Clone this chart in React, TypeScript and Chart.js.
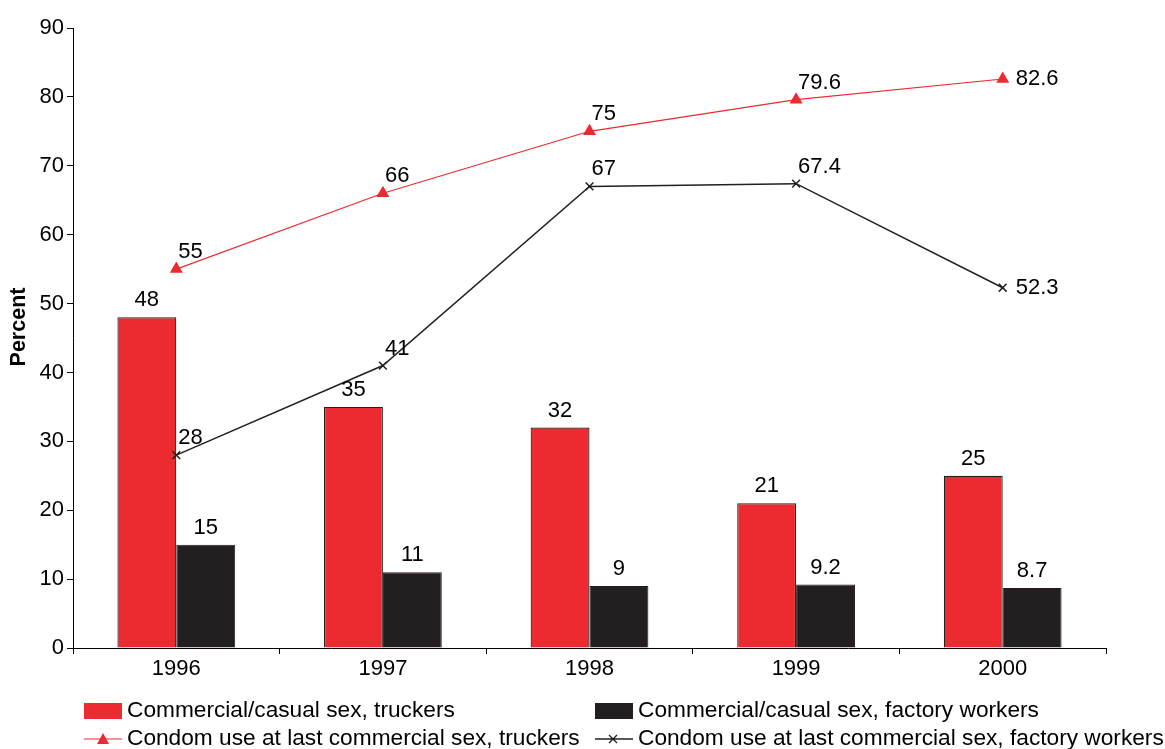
import React, { useEffect, useRef } from "react";
import { Chart, registerables } from "chart.js";

Chart.register(...registerables);

const years = ["1996", "1997", "1998", "1999", "2000"];
const casualTruckers = [48, 35, 32, 21, 25];
const casualFactory = [15, 11, 9, 9.2, 8.7];
const condomTruckers = [55, 66, 75, 79.6, 82.6];
const condomFactory = [28, 41, 67, 67.4, 52.3];

const legendLabels = [
  "Commercial/casual sex, truckers",
  "Commercial/casual sex, factory workers",
  "Condom use at last commercial sex, truckers",
  "Condom use at last commercial sex, factory workers",
];

const RED = "#EC2A2F";
const BLACK = "#231F20";
const FONT = '"Liberation Sans", Arial, sans-serif';

const labelPlugin = {
  id: "valueLabels",
  afterDatasetsDraw(chart: any) {
    const ctx = chart.ctx;
    ctx.save();
    ctx.fillStyle = "#000";
    ctx.font = `22px ${FONT}`;
    chart.data.datasets.forEach((ds: any, di: number) => {
      const meta = chart.getDatasetMeta(di);
      meta.data.forEach((el: any, i: number) => {
        const v = ds.data[i];
        const txt = String(v);
        if (ds.type === "bar") {
          ctx.textAlign = "center";
          ctx.textBaseline = "alphabetic";
          ctx.fillText(txt, el.x, el.y - 11);
        } else {
          ctx.textAlign = "left";
          if (i === meta.data.length - 1) {
            ctx.textBaseline = "middle";
            ctx.fillText(txt, el.x + 13, el.y);
          } else {
            ctx.textBaseline = "alphabetic";
            ctx.fillText(txt, el.x + 2, el.y - 11);
          }
        }
      });
    });
    ctx.restore();
  },
};

const decorPlugin = {
  id: "decor",
  afterDraw(chart: any) {
    const ctx = chart.ctx;
    ctx.save();
    // y-axis title
    ctx.translate(19, 327);
    ctx.rotate(-Math.PI / 2);
    ctx.font = `bold 21.5px ${FONT}`;
    ctx.fillStyle = "#000";
    ctx.textAlign = "center";
    ctx.textBaseline = "middle";
    ctx.fillText("Percent", 0, 0);
    ctx.restore();

    // legend
    ctx.save();
    ctx.font = `22.7px ${FONT}`;
    ctx.fillStyle = "#000";
    ctx.textBaseline = "middle";
    ctx.textAlign = "left";
    const cols = [84, 595];
    const rows = [711, 739];
    const symW = 38;
    // row 1: boxes
    ctx.fillStyle = RED;
    ctx.fillRect(cols[0], rows[0] - 8, symW, 16);
    ctx.fillStyle = BLACK;
    ctx.fillRect(cols[1], rows[0] - 8, symW, 16);
    // row 2: lines with markers
    ctx.lineWidth = 1;
    ctx.strokeStyle = RED;
    ctx.beginPath();
    ctx.moveTo(cols[0], rows[1]);
    ctx.lineTo(cols[0] + symW, rows[1]);
    ctx.stroke();
    ctx.fillStyle = RED;
    const tx = cols[0] + 19;
    ctx.beginPath();
    ctx.moveTo(tx, rows[1] - 6);
    ctx.lineTo(tx + 6, rows[1] + 5);
    ctx.lineTo(tx - 6, rows[1] + 5);
    ctx.closePath();
    ctx.fill();
    ctx.strokeStyle = BLACK;
    ctx.lineWidth = 1.3;
    ctx.beginPath();
    ctx.moveTo(cols[1], rows[1]);
    ctx.lineTo(cols[1] + symW, rows[1]);
    const cx = cols[1] + 18;
    ctx.moveTo(cx - 4, rows[1] - 4);
    ctx.lineTo(cx + 4, rows[1] + 4);
    ctx.moveTo(cx - 4, rows[1] + 4);
    ctx.lineTo(cx + 4, rows[1] - 4);
    ctx.stroke();
    // texts
    ctx.fillStyle = "#000";
    ctx.fillText(legendLabels[0], cols[0] + symW + 5, rows[0]);
    ctx.fillText(legendLabels[1], cols[1] + symW + 5, rows[0]);
    ctx.fillText(legendLabels[2], cols[0] + symW + 5, rows[1]);
    ctx.fillText(legendLabels[3], cols[1] + symW + 5, rows[1]);
    ctx.restore();
  },
};

export default function App() {
  const ref = useRef<HTMLCanvasElement | null>(null);
  useEffect(() => {
    if (!ref.current) return;
    const chart = new Chart(ref.current, {
      type: "bar",
      data: {
        labels: years,
        datasets: [
          {
            type: "line",
            label: legendLabels[2],
            data: condomTruckers,
            borderColor: RED,
            backgroundColor: RED,
            borderWidth: 1.1,
            pointStyle: "triangle",
            pointRadius: 7.5,
            pointBorderWidth: 0,
            pointBackgroundColor: RED,
            order: 0,
          },
          {
            type: "line",
            label: legendLabels[3],
            data: condomFactory,
            borderColor: BLACK,
            backgroundColor: BLACK,
            borderWidth: 1.5,
            pointStyle: "crossRot",
            pointRadius: 5.5,
            pointBorderWidth: 1.5,
            pointBorderColor: BLACK,
            order: 0,
          },
          {
            type: "bar",
            label: legendLabels[0],
            data: casualTruckers,
            backgroundColor: RED,
            borderColor: BLACK,
            borderWidth: 1.2,
            categoryPercentage: 0.57,
            barPercentage: 1,
            order: 1,
          },
          {
            type: "bar",
            label: legendLabels[1],
            data: casualFactory,
            backgroundColor: BLACK,
            borderColor: BLACK,
            borderWidth: 1,
            categoryPercentage: 0.57,
            barPercentage: 1,
            order: 1,
          },
        ] as any,
      },
      options: {
        responsive: false,
        animation: false,
        layout: { padding: { top: 28, right: 59, bottom: 60, left: 0 } },
        plugins: { legend: { display: false }, tooltip: { enabled: false } },
        scales: {
          x: {
            offset: true,
            grid: {
              display: true,
              offset: true,
              drawOnChartArea: false,
              drawTicks: true,
              tickLength: 6,
              color: "#000",
            },
            border: { display: true, color: "#000", width: 1 },
            ticks: { color: "#000", font: { family: FONT, size: 22 }, padding: 2 },
            afterFit: (s: any) => {
              s.height = 41;
            },
          },
          y: {
            min: 0,
            max: 90,
            grid: {
              display: true,
              drawOnChartArea: false,
              drawTicks: true,
              tickLength: 6,
              color: "#000",
            },
            border: { display: true, color: "#000", width: 1 },
            ticks: {
              stepSize: 10,
              color: "#000",
              font: { family: FONT, size: 22 },
              padding: 3,
            },
            afterFit: (s: any) => {
              s.width = 73;
            },
          },
        },
      },
      plugins: [labelPlugin, decorPlugin],
    });
    return () => chart.destroy();
  }, []);
  return (
    <div style={{ position: "absolute", left: 0, top: 0, width: 1165, height: 749, background: "#fff" }}>
      <canvas ref={ref} width={1165} height={749} />
    </div>
  );
}
